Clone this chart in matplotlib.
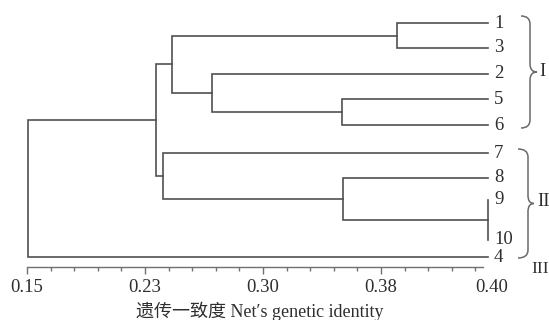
import matplotlib
matplotlib.use('Agg')
from matplotlib import pyplot as plt
from matplotlib.path import Path
from matplotlib.patches import PathPatch

# Leaves in drawing order (top to bottom)
leaves = ['1', '3', '2', '5', '6', '7', '8', '9', '10', '4']
leaf_tip = 0.394

# Merges: (child_a, child_b, genetic identity); new nodes numbered from len(leaves)
merges = [
    (0, 1, 0.346),    # 1 + 3
    (3, 4, 0.317),    # 5 + 6
    (2, 11, 0.248),   # 2 + (5,6)
    (10, 12, 0.227),  # cluster I
    (7, 8, 0.394),    # 9 + 10
    (6, 14, 0.3175),  # 8 + (9,10)
    (5, 15, 0.222),   # cluster II
    (13, 16, 0.2185), # I + II
    (17, 9, 0.1505),  # root with 4
]

tick_values = [0.15, 0.2125, 0.275, 0.3375, 0.3963]
tick_labels = ['0.15', '0.23', '0.30', '0.38', '0.40']
groups = ['I', 'II', 'III']

# Layout (pixel rows of the leaves)
leaf_rows = [23, 48, 74, 99, 125, 153, 178, 200, 240, 257]

fonts = ['Liberation Serif', 'Noto Sans CJK SC', 'DejaVu Sans']
line_color = '#505050'
text_color = '#2e2e2e'

W, H = 549, 320
fig = plt.figure(figsize=(W / 100, H / 100), dpi=100)
px = 0.0625 / 118  # identity per pixel
ax = fig.add_axes([27 / W, (H - 267) / H, (0.25 / px) / W, 267 / H])
ax.set_xlim(0.15, 0.40)
ax.set_ylim(267, 0)

# Draw dendrogram
pos = [(leaf_tip, y) for y in leaf_rows]
for a, b, h in merges:
    xa, ya = pos[a]
    xb, yb = pos[b]
    ax.plot([xa, h, h, xb], [ya, ya, yb, yb], color=line_color, lw=1.2,
            clip_on=False, solid_joinstyle='miter')
    pos.append((h, (ya + yb) / 2))

for name, y in zip(leaves, leaf_rows):
    ax.annotate(name, (leaf_tip, y), xytext=(4.5, 0), textcoords='offset points',
                ha='left', va='center', fontsize=13.5, family=fonts,
                color=text_color, annotation_clip=False)

# Axis styling
for s in ['left', 'right', 'top']:
    ax.spines[s].set_visible(False)
ax.spines['bottom'].set_color('#707070')
ax.spines['bottom'].set_linewidth(1.0)
ax.spines['bottom'].set_bounds(0.15, 0.15 + 456 * px)
ax.set_yticks([])
ax.set_xticks(tick_values)
ax.set_xticklabels(tick_labels, family=fonts, fontsize=13.5, color=text_color)
ax.set_xticks([0.15 + 0.0125 * i for i in range(20)], minor=True)
ax.tick_params(axis='x', which='major', length=5, width=1, color='#707070', pad=4)
ax.tick_params(axis='x', which='minor', length=2.8, width=1, color='#707070')
ax.xaxis.get_major_ticks()[-1].tick1line.set_visible(False)
ax.patch.set_visible(False)

fig.text(260 / W, 1 - 311 / H, '遗传一致度 Net\u2032s genetic identity', ha='center',
         va='center', fontsize=13, family=fonts, color=text_color)

# Braces and group labels in pixel coordinates
ov = fig.add_axes([0, 0, 1, 1])
ov.set_xlim(0, W)
ov.set_ylim(H, 0)
ov.axis('off')


def brace(x_end, x_mid, x_tip, y0, y1, r=8):
    ym = (y0 + y1) / 2
    verts = [(x_end, y0), (x_mid, y0), (x_mid, y0 + r), (x_mid, ym - r),
             (x_mid, ym), (x_tip, ym),
             (x_tip, ym), (x_mid, ym), (x_mid, ym + r), (x_mid, y1 - r),
             (x_mid, y1), (x_end, y1)]
    codes = [Path.MOVETO, Path.CURVE3, Path.CURVE3, Path.LINETO,
             Path.CURVE3, Path.CURVE3,
             Path.MOVETO, Path.CURVE3, Path.CURVE3, Path.LINETO,
             Path.CURVE3, Path.CURVE3]
    ov.add_patch(PathPatch(Path(verts, codes), fill=False, ec='#6a6a6a', lw=1.1))


brace(521, 530, 537, 16, 128)
brace(518, 528, 534, 149, 258)
ov.text(539, 72, groups[0], ha='left', va='center', fontsize=13.5, family=fonts, color=text_color)
ov.text(537, 202, groups[1], ha='left', va='center', fontsize=13.5, family=fonts, color=text_color)
ov.text(548.5, 269, groups[2], ha='right', va='center', fontsize=12.5, family=fonts, color=text_color)

fig.savefig('out.png', dpi=100)
